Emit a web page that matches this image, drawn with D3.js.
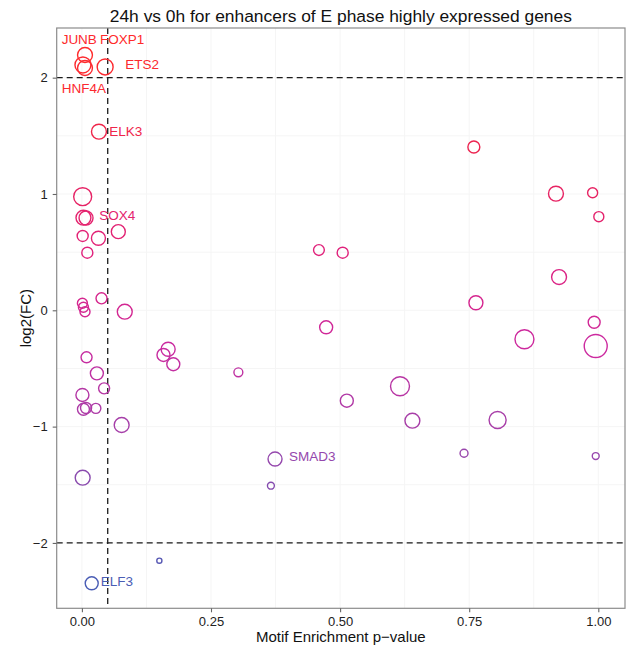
<!DOCTYPE html>
<html><head><meta charset="utf-8">
<script src="https://cdn.jsdelivr.net/npm/d3@7/dist/d3.min.js"></script>
<style>body{margin:0;background:#fff}svg{display:block;font-family:"Liberation Sans",Arial,sans-serif}</style>
</head><body><svg id="c" width="630" height="650"></svg>
<script>
const genes = ["FOXP1","JUNB","HNF4A","ETS2","ELK3","","SOX4","","","","","","","","","","","","","","","","","","","","ELF3","","","","","","SMAD3","","","","","","","","","","","","","","","","","","",""];
const pval = [0.006,0.002,0.006,0.045,0.033,0.0015,0.003,0.008,0.0015,0.032,0.0705,0.0105,0.038,0.001,0.003,0.006,0.083,0.009,0.029,0.043,0.001,0.003,0.008,0.027,0.077,0.0015,0.019,0.150,0.167,0.158,0.177,0.303,0.374,0.366,0.473,0.513,0.459,0.505,0.759,0.918,0.989,1.001,0.924,0.763,0.992,0.857,0.995,0.616,0.640,0.805,0.740,0.995];
const log2fc = [2.195,2.109,2.083,2.092,1.536,0.977,0.796,0.794,0.639,0.619,0.676,0.495,0.103,0.060,0.026,-0.012,-0.012,-0.404,-0.542,-0.671,-0.728,-0.851,-0.840,-0.843,-0.986,-1.439,-2.347,-2.153,-0.335,-0.384,-0.464,-0.533,-1.279,-1.508,-0.146,-0.777,0.518,0.495,1.404,1.003,1.011,0.805,0.286,0.065,-0.103,-0.249,-0.307,-0.653,-0.949,-0.943,-1.229,-1.253];
const count = [42,48,42,48,42,61,42,37,23,37,37,23,23,19,19,19,42,23,32,23,32,27,23,19,42,42,32,5,37,32,32,15,37,9,32,32,22,23,27,42,19,19,42,37,27,68,100,68,42,55,12,9];
const xTicks = [0, 0.25, 0.5, 0.75, 1];
const xTickLabels = ["0.00","0.25","0.50","0.75","1.00"];
const yTicks = [-2, -1, 0, 1, 2];
const yTickLabels = ["\u22122","\u22121","0","1","2"];
const xMinor = [0.125, 0.375, 0.625, 0.875];
const yMinor = [-1.5, -0.5, 0.5, 1.5];
const hLines = [2, -2];
const vLines = [0.05];
const title = "24h vs 0h for enhancers of E phase highly expressed genes";
const xTitle = "Motif Enrichment p\u2212value";
const yTitle = "log2(FC)";

// label nudges (layout only)
const nudge = {FOXP1:[15,-11],JUNB:[-21.3,-21],HNF4A:[-23.3,24.5],ETS2:[20,2.3],ELK3:[10.3,4.3],SOX4:[15.7,2.3],ELF3:[9,2.7],SMAD3:[14,2]};

const data = pval.map((p,i)=>({p, fc: log2fc[i], n: count[i], g: genes[i]}));

const L = 56.7, R = 625, T = 28, B = 608.3;
const svg = d3.select("#c");
const x = d3.scaleLinear().domain([-0.0488, 1.0517]).range([L, R]);
const y = d3.scaleLinear().domain([-2.562, 2.427]).range([B, T]);
const r = d3.scaleSqrt().domain([0, 100]).range([0, 11.5]);
const col = d3.scaleLinear()
  .domain([-2.35, -1.28, -0.3, 0.5, 1.4, 2.2])
  .range(["#4a5db5", "#9548ad", "#cc2a9f", "#e0227c", "#ec2450", "#ff2a2a"]);

// grid
const g = svg.append("g");
g.selectAll(".gx").data(xTicks.concat(xMinor)).join("line")
  .attr("x1", d=>x(d)).attr("x2", d=>x(d)).attr("y1", T).attr("y2", B)
  .attr("stroke", "#f5f5f5").attr("stroke-width", 1);
g.selectAll(".gy").data(yTicks.concat(yMinor)).join("line")
  .attr("y1", d=>y(d)).attr("y2", d=>y(d)).attr("x1", L).attr("x2", R)
  .attr("stroke", "#f5f5f5").attr("stroke-width", 1);

// reference lines
svg.selectAll(".hl").data(hLines).join("line")
  .attr("x1", L).attr("x2", R).attr("y1", d=>y(d)).attr("y2", d=>y(d))
  .attr("stroke", "#1a1a1a").attr("stroke-width", 1.3).attr("stroke-dasharray", "6,4");
svg.selectAll(".vl").data(vLines).join("line")
  .attr("y1", T).attr("y2", B).attr("x1", d=>x(d)).attr("x2", d=>x(d))
  .attr("stroke", "#1a1a1a").attr("stroke-width", 1.3).attr("stroke-dasharray", "6,4");

// points
svg.append("g").selectAll("circle").data(data).join("circle")
  .attr("cx", d=>x(d.p)).attr("cy", d=>y(d.fc)).attr("r", d=>r(d.n))
  .attr("fill", "none").attr("stroke", d=>col(d.fc)).attr("stroke-width", 1.4);

// labels
svg.append("g").selectAll("text").data(data.filter(d=>d.g)).join("text")
  .attr("x", d=>x(d.p) + nudge[d.g][0]).attr("y", d=>y(d.fc) + nudge[d.g][1])
  .attr("fill", d=>col(d.fc)).attr("font-size", "13.5px").text(d=>d.g);

// panel border
svg.append("rect").attr("x", L).attr("y", T).attr("width", R-L).attr("height", B-T)
  .attr("fill", "none").attr("stroke", "#8c8c8c").attr("stroke-width", 1.2);

// axes
const xa = svg.append("g").attr("transform", `translate(0,${B})`)
  .call(d3.axisBottom(x).tickValues(xTicks).tickFormat((d,i)=>xTickLabels[i]).tickSize(4).tickPadding(4));
const ya = svg.append("g").attr("transform", `translate(${L},0)`)
  .call(d3.axisLeft(y).tickValues(yTicks).tickFormat((d,i)=>yTickLabels[i]).tickSize(4).tickPadding(5));
[xa, ya].forEach(a=>{
  a.select(".domain").remove();
  a.selectAll(".tick line").attr("stroke", "#666").attr("stroke-width", 1.1);
  a.selectAll(".tick text").attr("fill", "#222").attr("font-size", "13px")
    .attr("font-family", "Liberation Sans, Arial, sans-serif");
});

// titles
svg.append("text").attr("x", (L+R)/2).attr("y", 22).attr("text-anchor", "middle")
  .attr("font-size", "17.4px").attr("fill", "#111").text(title);
svg.append("text").attr("x", (L+R)/2).attr("y", 642).attr("text-anchor", "middle")
  .attr("font-size", "15px").attr("fill", "#111").text(xTitle);
svg.append("text").attr("transform", `translate(31,${(T+B)/2}) rotate(-90)`).attr("text-anchor", "middle")
  .attr("font-size", "15px").attr("fill", "#111").text(yTitle);
</script></body></html>
